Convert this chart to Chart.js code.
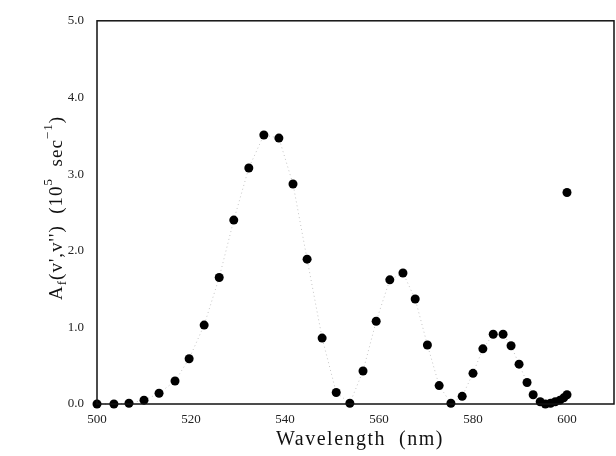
<!DOCTYPE html>
<html><head><meta charset="utf-8">
<script src="https://cdn.jsdelivr.net/npm/chart.js@4/dist/chart.umd.min.js"></script>
<style>html,body{margin:0;padding:0;background:#fff}#wrap{width:616px;height:456px;position:relative}</style>
</head><body><div id="wrap"><canvas id="c" width="616" height="456"></canvas></div>
<script>
const wavelengths = [500,503.6,506.8,510,513.2,516.6,519.6,522.8,526,529.1,532.3,535.5,538.7,541.7,544.7,547.9,550.9,553.8,556.6,559.4,562.3,565.1,567.7,570.3,572.8,575.3,577.7,580,582.1,584.3,586.4,588.1,589.8,591.5,592.8,594.3,595.4,596.5,597.5,598.5,599.3,600];
const coefficients = [0.00,0.00,0.01,0.05,0.14,0.30,0.59,1.03,1.65,2.40,3.08,3.51,3.47,2.87,1.89,0.86,0.15,0.01,0.43,1.08,1.62,1.71,1.37,0.77,0.24,0.01,0.10,0.40,0.72,0.91,0.91,0.76,0.52,0.28,0.12,0.03,0.00,0.01,0.03,0.05,0.08,0.12];
const outlierX = [600];
const outlierY = [2.76];
const xTicks = [500,520,540,560,580,600];
const yTicks = [0,1,2,3,4,5];

const serif = '"Liberation Serif","DejaVu Serif",serif';

const frame = {
  id:'frame',
  afterDraw(chart){
    const {ctx, chartArea:a} = chart;
    ctx.save();
    ctx.strokeStyle='#111'; ctx.lineWidth=1.5;
    ctx.strokeRect(a.left, a.top, a.right-a.left, a.bottom-a.top);
    // x title
    ctx.fillStyle='#111';
    ctx.font='20px '+serif;
    ctx.letterSpacing='1.5px';
    ctx.textAlign='center'; ctx.textBaseline='middle';
    ctx.fillText('Wavelength  (nm)', 360, 440);
    // y title with sub/superscripts
    ctx.letterSpacing='1px';
    ctx.translate(57, 208);
    ctx.rotate(-Math.PI/2);
    const parts = [
      ['A',19,0],['f',13,6],["(v',v'')  (10",19,0],['5',13,-8],['  sec',19,0],['−1',13,-8],[')',19,0]
    ];
    let total=0;
    parts.forEach(p=>{ctx.font=p[1]+'px '+serif; total+=ctx.measureText(p[0]).width;});
    let x=-total/2;
    ctx.textAlign='left';
    parts.forEach(p=>{ctx.font=p[1]+'px '+serif; ctx.fillText(p[0], x, p[2]); x+=ctx.measureText(p[0]).width;});
    ctx.restore();
  }
};

new Chart(document.getElementById('c'), {
  type:'scatter',
  data:{datasets:[
    {data:wavelengths.map((w,i)=>({x:w,y:coefficients[i]})), showLine:true, clip:false, borderColor:'#c4c4c4', borderWidth:1, borderDash:[1,3], pointRadius:4.5, pointBackgroundColor:'#000', pointBorderColor:'#000', pointBorderWidth:0},
    {data:outlierX.map((w,i)=>({x:w,y:outlierY[i]})), showLine:false, clip:false, pointRadius:4.5, pointBackgroundColor:'#000', pointBorderColor:'#000', pointBorderWidth:0}
  ]},
  options:{
    responsive:false, animation:false,
    layout:{autoPadding:false, padding:{top:16,right:2,left:0,bottom:0}},
    plugins:{legend:{display:false}, tooltip:{enabled:false}},
    scales:{
      x:{type:'linear', min:500, max:610,
        afterBuildTicks(s){s.ticks = xTicks.map(v=>({value:v}));},
        afterFit(s){s.height=52;},
        grid:{display:false, drawTicks:false}, border:{display:false},
        ticks:{padding:8, color:'#222', font:{family:serif,size:13}, maxRotation:0}},
      y:{type:'linear', min:0, max:5,
        afterBuildTicks(s){s.ticks = yTicks.map(v=>({value:v}));},
        afterFit(s){s.width=97;},
        grid:{display:false, drawTicks:false}, border:{display:false},
        ticks:{padding:13, color:'#222', font:{family:serif,size:13}, callback:v=>v.toFixed(1)}}
    }
  },
  plugins:[frame]
});
</script></body></html>
